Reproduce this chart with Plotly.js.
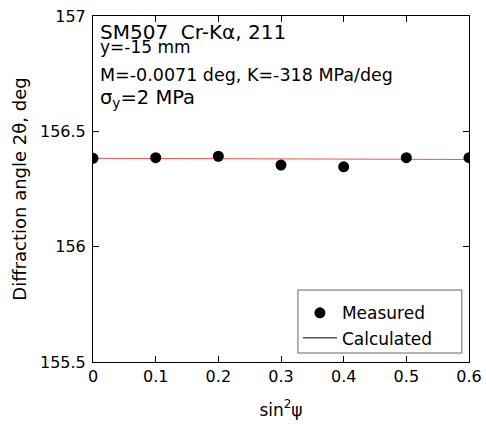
<!DOCTYPE html>
<html><head><meta charset="utf-8">
<script src="https://cdn.plot.ly/plotly-3.0.1.min.js"></script>
<style>body{margin:0;padding:0;background:#fff}#chart{width:486px;height:428px}</style>
</head><body><div id="chart"></div>
<script>
var sin2psi = [0, 0.1, 0.2, 0.3, 0.4, 0.5, 0.6];
var measured = [156.383, 156.386, 156.392, 156.354, 156.346, 156.386, 156.386];
var calcX = [0, 0.6];
var calcY = [156.383, 156.378];
var xTicks = [0, 0.1, 0.2, 0.3, 0.4, 0.5, 0.6];
var yTicks = [155.5, 156, 156.5, 157];
var infoLines = ["SM507\u00a0\u00a0Cr-K\u03b1, 211", "y=-15 mm", "M=-0.0071 deg, K=-318 MPa/deg", "\u03c3<sub>y</sub>=2 MPa"];
var infoY = [0.955, 0.909, 0.829, 0.763];
var infoSize = [20, 17, 17.5, 19.5];

var font = "'DejaVu Sans', Verdana, sans-serif";
var traces = [
  {x: calcX, y: calcY, mode: 'lines', line: {color: '#f05050', width: 1}, showlegend: false, hoverinfo: 'skip'},
  {x: sin2psi, y: measured, mode: 'markers', name: 'Measured', marker: {color: '#000', size: 11}},
  {x: [null], y: [null], mode: 'lines', name: 'Calculated', line: {color: '#000', width: 1}}
];
var annotations = infoLines.map(function(t, i){
  return {text: t, xref: 'paper', yref: 'paper', x: 0.012, y: infoY[i], xanchor: 'left', yanchor: 'middle', showarrow: false, font: {size: infoSize[i], color: '#000', family: font}};
});
var layout = {
  width: 486, height: 428,
  margin: {l: 93, r: 17, t: 16, b: 66},
  paper_bgcolor: '#fff', plot_bgcolor: '#fff',
  font: {family: font, size: 17, color: '#000'},
  showlegend: true,
  legend: {x: 0.545, y: 0.193, xanchor: 'left', yanchor: 'top', bgcolor: 'rgba(0,0,0,0)', borderwidth: 0, font: {size: 17}, itemwidth: 34, tracegroupgap: 0},
  shapes: [{type: 'rect', xref: 'paper', yref: 'paper', x0: 0.545, x1: 0.981, y0: 0.026, y1: 0.208, line: {color: '#666', width: 1}, fillcolor: '#fff', layer: 'above'}],
  xaxis: {range: [0, 0.6], tickmode: 'array', tickvals: xTicks, ticktext: xTicks.map(String), ticks: 'inside', ticklen: 6, tickwidth: 1, tickcolor: '#000', showline: true, linecolor: '#000', linewidth: 1, mirror: 'ticks', showgrid: false, zeroline: false,
    title: {text: 'sin<sup>2</sup>\u03c8', font: {size: 17}, standoff: 18}, tickfont: {size: 16}},
  yaxis: {range: [155.5, 157], tickmode: 'array', tickvals: yTicks, ticktext: ['155.5', '156', '156.5', '157'], ticks: 'inside', ticklen: 6, tickwidth: 1, tickcolor: '#000', ticklabelstandoff: 3, showline: true, linecolor: '#000', linewidth: 1, mirror: 'ticks', showgrid: false, zeroline: false,
    title: {text: 'Diffraction angle 2\u03b8, deg', font: {size: 18}, standoff: 8}, tickfont: {size: 16}},
  annotations: annotations
};
Plotly.newPlot('chart', traces, layout, {displayModeBar: false});
</script></body></html>
